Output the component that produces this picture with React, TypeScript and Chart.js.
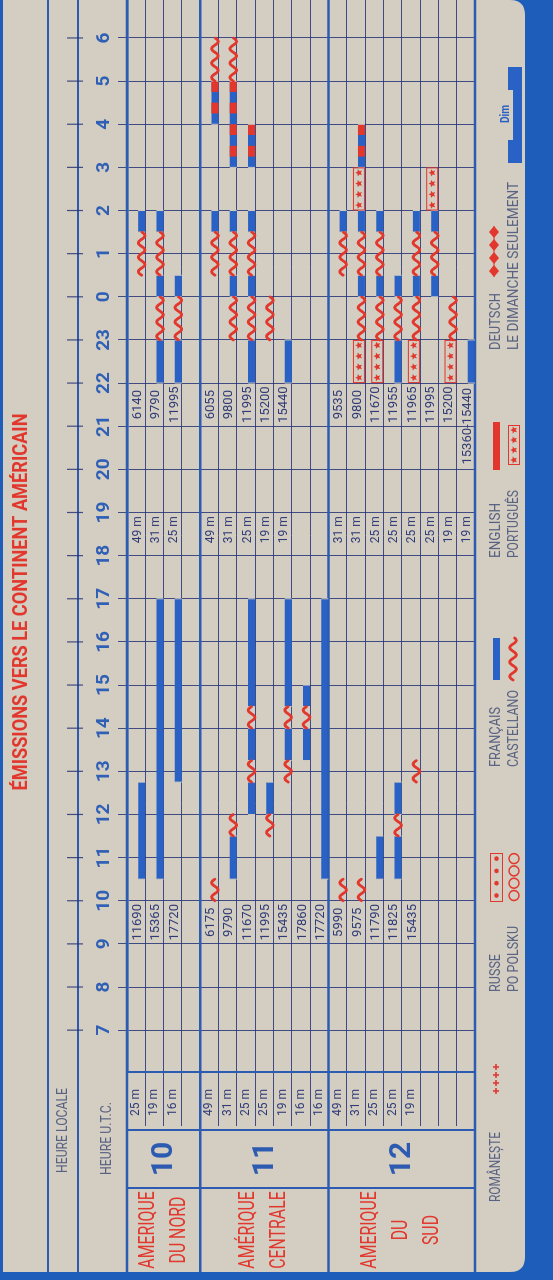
import React, { useEffect, useRef } from 'react';
import { Chart, registerables } from 'chart.js';

Chart.register(...registerables);

// ---------------- data ----------------
const TITLE = 'ÉMISSIONS VERS LE CONTINENT AMÉRICAIN';
const LOCAL_LABEL = 'HEURE LOCALE';
const UTC_LABEL = 'HEURE U.T.C.';

const hourLabels = ['7', '8', '9', '10', '11', '12', '13', '14', '15', '16', '17', '18', '19', '20', '21', '22', '23', '0', '1', '2', '3', '4', '5', '6'];
const firstHour = 7; // hours run on a continuous clock: 24 = 0 h ... 30 = 6 h UTC

const bottomBands = ['25 m', '19 m', '16 m', '', '49 m', '31 m', '25 m', '25 m', '19 m', '16 m', '16 m', '49 m', '31 m', '25 m', '25 m', '19 m', '', '', ''];
const morningFreqs = ['11690', '15365', '17720', '', '6175', '9790', '11670', '11995', '15435', '17860', '17720', '5990', '9575', '11790', '11825', '15435', '', '', ''];
const eveningBands = ['49 m', '31 m', '25 m', '', '49 m', '31 m', '25 m', '19 m', '19 m', '', '', '31 m', '31 m', '25 m', '25 m', '25 m', '25 m', '19 m', '19 m'];
const eveningFreqs = ['6140', '9790', '11995', '', '6055', '9800', '11995', '15200', '15440', '', '', '9535', '9800', '11670', '11955', '11965', '11995', '15200', '15360-15440'];

const regionNumbers = ['10', '11', '12'];
const regionNames = [['AMERIQUE', 'DU NORD'], ['AMÉRIQUE', 'CENTRALE'], ['AMERIQUE', 'DU', 'SUD']];
const regionStart = [0, 4, 11];
const regionEnd = [4, 11, 19];

// [column, start hour, end hour]
const francais = [
  [0, 10.5, 12.75], [0, 25.5, 26],
  [1, 10.5, 17], [1, 22, 23], [1, 24, 24.5], [1, 25.5, 26],
  [2, 12.75, 17], [2, 22, 23], [2, 24, 24.5],
  [4, 25.5, 26], [4, 28, 29],
  [5, 10.5, 11.5], [5, 24, 24.5], [5, 25.5, 26], [5, 27, 29],
  [6, 12, 12.75], [6, 13.25, 14], [6, 14.5, 17], [6, 22, 23], [6, 24, 24.5], [6, 25.5, 26], [6, 27, 28],
  [7, 12, 12.75],
  [8, 13.25, 14], [8, 14.5, 17], [8, 22, 23],
  [9, 13.25, 14], [9, 14.5, 15],
  [10, 10.5, 17],
  [11, 25.5, 26],
  [12, 24, 24.5], [12, 25.5, 26], [12, 27, 28],
  [13, 10.5, 11.5], [13, 24, 24.5], [13, 25.5, 26],
  [14, 10.5, 11.5], [14, 12, 12.75], [14, 22, 23], [14, 24, 24.5],
  [15, 24, 24.5], [15, 25.5, 26],
  [16, 24, 24.5], [16, 25.5, 26],
  [18, 22, 23],
];
const english = [
  [4, 28.25, 28.5], [4, 28.75, 29],
  [5, 27.25, 27.5], [5, 27.75, 28], [5, 28.25, 28.5], [5, 28.75, 29],
  [6, 27.25, 27.5], [6, 27.75, 28],
  [12, 27.25, 27.5], [12, 27.75, 28],
];
const castellano = [
  [0, 24.5, 25.5],
  [1, 23, 24], [1, 24.5, 25.5],
  [2, 23, 24],
  [4, 10, 10.5], [4, 24.5, 25.5], [4, 29, 30],
  [5, 11.5, 12], [5, 23, 24], [5, 24.5, 25.5], [5, 29, 30],
  [6, 12.75, 13.25], [6, 14, 14.5], [6, 23, 24], [6, 24.5, 25.5],
  [7, 11.5, 12], [7, 23, 24],
  [8, 12.75, 13.25], [8, 14, 14.5],
  [9, 14, 14.5],
  [11, 10, 10.5], [11, 24.5, 25.5],
  [12, 10, 10.5], [12, 23, 24], [12, 24.5, 25.5],
  [13, 23, 24], [13, 24.5, 25.5],
  [14, 11.5, 12], [14, 23, 24],
  [15, 12.75, 13.25], [15, 23, 24], [15, 24.5, 25.5],
  [16, 24.5, 25.5],
  [17, 23, 24],
];
const portugues = [
  [12, 22, 23], [12, 26, 27],
  [13, 22, 23],
  [15, 22, 23],
  [16, 26, 27],
  [17, 22, 23],
];

const legendRow1 = ['ROMÂNEȘTE', 'RUSSE', 'FRANÇAIS', 'ENGLISH', 'DEUTSCH'];
const legendRow2 = ['', 'PO POLSKU', 'CASTELLANO', 'PORTUGUÊS', 'LE DIMANCHE SEULEMENT'];
const SUNDAY = 'Dim';

// ---------------- styling ----------------
const W = 1280;
const H = 553;
const BG_BLUE = '#1f5dbb';
const CARD = '#d3cdc2';
const BAR_BLUE = '#2962c4';
const RED = '#e2372c';
const LINE_BLUE = '#2d5bb2';
const GRID = 'rgba(38,52,120,0.85)';
const NAVY = '#2f3c78';
const HOUR_BLUE = '#2f60b6';
const GRAY = '#586282';
const BAR_SHIFT = 0.3;
const FONT = 'Roboto, "Noto Sans", sans-serif';

function drawText(ctx, s, x, y, o) {
  if (!s) return;
  ctx.save();
  ctx.font = `${o.weight || 'normal'} ${o.size}px ${FONT}`;
  ctx.fillStyle = o.color;
  ctx.textBaseline = 'middle';
  ctx.textAlign = o.align || 'left';
  let sx = o.sx || 1;
  if (o.width) sx = o.width / ctx.measureText(s).width;
  ctx.translate(x, y);
  ctx.scale(sx, 1);
  ctx.fillText(s, 0, 0);
  ctx.restore();
}

function drawWave(ctx, x0, x1, yc, amp = 3.3, period = 14.4, lw = 2.8) {
  ctx.save();
  ctx.beginPath();
  for (let x = x0; x <= x1 + 0.01; x += 0.5) {
    const y = yc - amp * Math.sin(((x - x0) / period) * 2 * Math.PI);
    if (x === x0) ctx.moveTo(x, y);
    else ctx.lineTo(x, y);
  }
  ctx.strokeStyle = RED;
  ctx.lineWidth = lw;
  ctx.lineCap = 'round';
  ctx.stroke();
  ctx.restore();
}

function drawStar(ctx, cx, cy, r) {
  ctx.beginPath();
  for (let i = 0; i < 10; i++) {
    const a = -Math.PI / 2 + (i * Math.PI) / 5;
    const rr = i % 2 === 0 ? r : r * 0.45;
    const px = cx + rr * Math.cos(a);
    const py = cy + rr * Math.sin(a);
    if (i === 0) ctx.moveTo(px, py);
    else ctx.lineTo(px, py);
  }
  ctx.closePath();
  ctx.fill();
}

function drawStarBox(ctx, x0, x1, yc) {
  ctx.save();
  ctx.strokeStyle = RED;
  ctx.fillStyle = RED;
  ctx.lineWidth = 1;
  ctx.strokeRect(x0 + 0.5, yc - 5.5, x1 - x0 - 1, 11);
  const n = Math.max(1, Math.round((x1 - x0) / 10.8));
  const step = (x1 - x0) / n;
  for (let k = 0; k < n; k++) drawStar(ctx, x0 + step * (k + 0.5), yc, 3.8);
  ctx.restore();
}

function line(ctx, x0, y0, x1, y1, color, lw) {
  ctx.save();
  ctx.beginPath();
  ctx.moveTo(x0, y0);
  ctx.lineTo(x1, y1);
  ctx.strokeStyle = color;
  ctx.lineWidth = lw;
  ctx.stroke();
  ctx.restore();
}

const cardPlugin = {
  id: 'card',
  beforeDraw(chart) {
    const ctx = chart.ctx;
    ctx.save();
    ctx.fillStyle = BG_BLUE;
    ctx.fillRect(0, 0, W, H);
    const L = 8, T = 3, R = W, B = 525, r = 15;
    ctx.beginPath();
    ctx.moveTo(L, T);
    ctx.lineTo(R, T);
    ctx.lineTo(R, B - r);
    ctx.quadraticCurveTo(R, B, R - r, B);
    ctx.lineTo(L + r, B);
    ctx.quadraticCurveTo(L, B, L, B - r);
    ctx.closePath();
    ctx.fillStyle = CARD;
    ctx.fill();
    ctx.restore();
  },
};

const overlayPlugin = {
  id: 'overlay',
  afterDraw(chart) {
    const ctx = chart.ctx;
    const xs = chart.scales.x;
    const ys = chart.scales.y;
    const ca = chart.chartArea;
    const colY = (i) => ys.getPixelForValue(i);
    const edgeY = (i) => ys.getPixelForValue(i - 0.5);

    // full-length frame lines
    line(ctx, 8, 48, W, 48, LINE_BLUE, 1.8);
    line(ctx, 8, 78, W, 78, LINE_BLUE, 1.8);
    [0, ...regionEnd].forEach((b) => line(ctx, 8, edgeY(b), W, edgeY(b), LINE_BLUE, 2.6));
    line(ctx, 150, ca.top, 150, ca.bottom, LINE_BLUE, 2);
    line(ctx, 92, ca.top, 92, ca.bottom, LINE_BLUE, 2);

    // local-hour ticks
    xs.ticks.forEach((t) => {
      const px = xs.getPixelForValue(t.value);
      line(ctx, px, 67, px, 83, GRID, 1.2);
    });

    // segment separators on the alternating bars
    chart.getDatasetMeta(0).data.forEach((el) => {
      const p = el.getProps(['x', 'y', 'base', 'height'], true);
      [p.x, p.base].forEach((xx) => line(ctx, xx, p.y - p.height / 2, xx, p.y + p.height / 2, CARD, 1));
    });

    // waves (Castellano)
    chart.getDatasetMeta(2).data.forEach((el) => {
      const p = el.getProps(['x', 'y', 'base'], true);
      drawWave(ctx, Math.min(p.x, p.base), Math.max(p.x, p.base), p.y);
    });
    // stars (Português)
    chart.getDatasetMeta(3).data.forEach((el) => {
      const p = el.getProps(['x', 'y', 'base'], true);
      drawStarBox(ctx, Math.min(p.x, p.base), Math.max(p.x, p.base), p.y - 2.5);
    });

    // in-grid labels
    for (let i = 0; i < bottomBands.length; i++) {
      const y = colY(i) + 1.5;
      drawText(ctx, morningFreqs[i], xs.getPixelForValue(9.5), y, { size: 13, color: NAVY, align: 'center' });
      drawText(ctx, eveningBands[i], xs.getPixelForValue(18.6), y, { size: 12, color: NAVY, align: 'center' });
      const ef = eveningFreqs[i];
      drawText(ctx, ef, xs.getPixelForValue(ef.includes('-') ? 21 : 21.5), y, { size: 13, color: NAVY, align: 'center' });
    }

    // titles
    drawText(ctx, TITLE, 678, 22, { size: 20, weight: 'bold', color: RED, align: 'center', width: 377 });
    drawText(ctx, LOCAL_LABEL, 107, 63, { size: 15, color: GRAY, width: 85 });
    drawText(ctx, UTC_LABEL, 105, 107, { size: 15, color: GRAY, width: 73 });

    // regions
    regionNumbers.forEach((n, r) => {
      const mid = (edgeY(regionStart[r]) + edgeY(regionEnd[r])) / 2;
      drawText(ctx, n, 121, mid + 1, { size: 30, weight: 'bold', color: LINE_BLUE, align: 'center' });
      const names = regionNames[r];
      const gap = 31;
      names.forEach((s, k) => {
        const y = mid + (k - (names.length - 1) / 2) * gap;
        drawText(ctx, s, 50, y, { size: 22, color: RED, align: 'center', sx: 0.72 });
      });
    });

    // legend
    const r1 = 496, r2 = 514;
    const lx = [78, 288, 513, 722, 930];
    const w1 = [70, 38, 60, 55, 57];
    const w2 = [0, 66, 77, 68, 168];
    legendRow1.forEach((s, i) => drawText(ctx, s, lx[i], r1, { size: 14, color: GRAY, width: w1[i] }));
    legendRow2.forEach((s, i) => drawText(ctx, s, lx[i], r2, { size: 14, color: GRAY, width: w2[i] }));

    ctx.save();
    ctx.strokeStyle = RED;
    ctx.fillStyle = RED;
    ctx.lineWidth = 1.6;
    // ++++
    for (let k = 0; k < 4; k++) {
      const cx = 189 + k * 8;
      line(ctx, cx - 3, r1, cx + 3, r1, RED, 1.6);
      line(ctx, cx, r1 - 3, cx, r1 + 3, RED, 1.6);
    }
    // dotted box and circles
    ctx.lineWidth = 1;
    ctx.strokeRect(378.5, 490.5, 48, 12);
    for (let k = 0; k < 4; k++) {
      const cx = 384.5 + k * 12.3;
      ctx.beginPath();
      ctx.arc(cx, 496.5, 2.3, 0, Math.PI * 2);
      ctx.fill();
      ctx.beginPath();
      ctx.arc(cx, 514, 5, 0, Math.PI * 2);
      ctx.lineWidth = 1.6;
      ctx.stroke();
    }
    // français / castellano
    ctx.fillStyle = BAR_BLUE;
    ctx.fillRect(600, 493, 42, 7);
    drawWave(ctx, 600, 642, 513);
    // english / português
    ctx.fillStyle = RED;
    ctx.fillRect(810, 493, 48, 7);
    drawStarBox(ctx, 815, 855, 514);
    // deutsch diamonds
    ctx.fillStyle = RED;
    line(ctx, 1003, 494, 1054, 494, RED, 1.2);
    for (let k = 0; k < 4; k++) {
      const cx = 1009 + k * 13;
      ctx.beginPath();
      ctx.moveTo(cx - 6, 494);
      ctx.lineTo(cx, 489);
      ctx.lineTo(cx + 6, 494);
      ctx.lineTo(cx, 499);
      ctx.closePath();
      ctx.fill();
    }
    // Dim bracket
    ctx.fillStyle = BAR_BLUE;
    ctx.fillRect(1117, 508, 23, 14);
    ctx.fillRect(1190, 508, 23, 14);
    ctx.fillRect(1117, 513, 96, 9);
    ctx.restore();
    drawText(ctx, SUNDAY, 1166, 506, { size: 12, weight: 'bold', color: BAR_BLUE, align: 'center', sx: 0.85 });
  },
};

const toBars = (rows) => rows.map(([c, s, e]) => ({ x: [s, e], y: c + BAR_SHIFT }));

const barBase = {
  yAxisID: 'y2',
  xAxisID: 'x',
  grouped: false,
  maxBarThickness: 7,
  borderWidth: 0,
  borderSkipped: false,
};

export default function App() {
  const ref = useRef(null);

  useEffect(() => {
    const chart = new Chart(ref.current, {
      type: 'bar',
      data: {
        datasets: [
          { ...barBase, label: 'Français', data: toBars(francais), backgroundColor: BAR_BLUE, order: 3 },
          { ...barBase, label: 'English', data: toBars(english), backgroundColor: RED, order: 0 },
          { ...barBase, label: 'Castellano', data: toBars(castellano), backgroundColor: 'rgba(0,0,0,0)', order: 1 },
          { ...barBase, label: 'Português', data: toBars(portugues), backgroundColor: 'rgba(0,0,0,0)', order: 2 },
        ],
      },
      options: {
        indexAxis: 'y',
        animation: false,
        responsive: false,
        devicePixelRatio: 1,
        events: [],
        layout: { padding: { left: 0, right: 0, top: 0, bottom: 78 } },
        plugins: {
          legend: { display: false },
          title: { display: false },
          tooltip: { enabled: false },
        },
        scales: {
          x: {
            type: 'linear',
            position: 'top',
            min: 6.03,
            max: 30.88,
            beginAtZero: false,
            afterFit: (s) => { s.height = 127; },
            afterBuildTicks: (s) => { s.ticks = hourLabels.map((_, i) => ({ value: firstHour + i })); },
            ticks: {
              autoSkip: false,
              maxRotation: 0,
              minRotation: 0,
              padding: 2,
              color: HOUR_BLUE,
              font: { family: 'Roboto', size: 19, weight: 'bold' },
              callback: (_v, i) => hourLabels[i],
            },
            grid: { color: GRID, lineWidth: 1, tickLength: 9 },
            border: { display: true, color: LINE_BLUE, width: 2.6 },
          },
          y: {
            type: 'category',
            labels: bottomBands,
            position: 'left',
            offset: true,
            afterFit: (s) => { s.width = 208; },
            ticks: {
              autoSkip: false,
              padding: -37,
              color: NAVY,
              font: { family: 'Roboto', size: 12 },
            },
            grid: {
              offset: true,
              tickLength: 54,
              color: GRID,
              lineWidth: 1,
            },
            border: { display: true, color: LINE_BLUE, width: 2 },
          },
          y2: {
            type: 'linear',
            min: -0.5,
            max: 18.5,
            reverse: true,
            display: false,
            offset: false,
            afterBuildTicks: (s) => { s.ticks = [{ value: -0.5 }]; },
          },
        },
      },
      plugins: [cardPlugin, overlayPlugin],
    });
    return () => chart.destroy();
  }, []);

  return (
    <div
      style={{
        position: 'fixed',
        left: 0,
        top: 0,
        width: W,
        height: H,
        transformOrigin: '0 0',
        transform: `translateY(${W}px) rotate(-90deg)`,
      }}
    >
      <canvas ref={ref} width={W} height={H} style={{ display: 'block', width: W, height: H }} />
    </div>
  );
}
